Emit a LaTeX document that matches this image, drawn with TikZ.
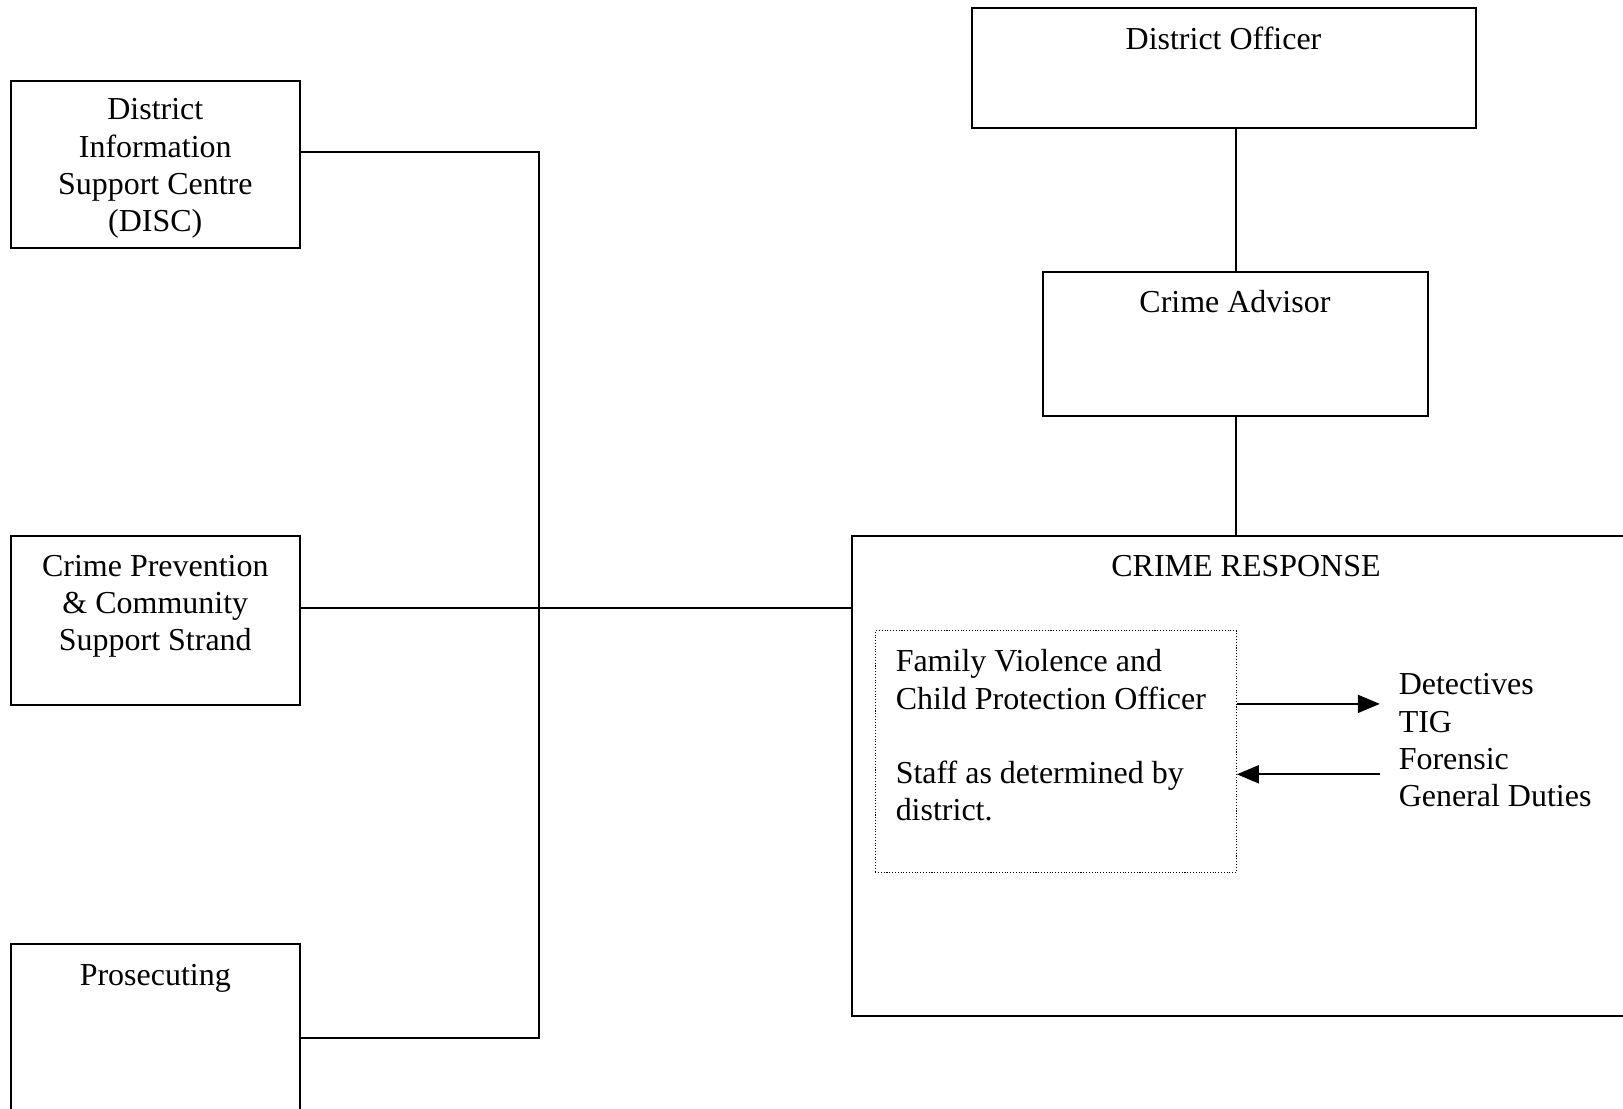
\documentclass[tikz,border=0pt]{standalone}
\usepackage{fontspec}
\setmainfont{Liberation Serif}
\usepackage{tikz}
\usetikzlibrary{arrows.meta}

\begin{document}
\begin{tikzpicture}[x=0.02cm,y=-0.02cm,
  every node/.style={font=\fontsize{18.2}{21.2}\selectfont},
  box/.style={draw,line width=1.1pt,rectangle,anchor=north west,inner sep=0pt},
  dotbox/.style={draw,densely dotted,line width=0.6pt,rectangle,anchor=north west,inner sep=0pt},
  txt/.style={inner sep=0pt,align=center},
  link/.style={line width=1.1pt},
  arr/.style={line width=1.1pt,-{Triangle[length=0.44cm,width=0.36cm]}}]
\useasboundingbox (0,0) rectangle (1623,1109);
\clip (0,0) rectangle (1623,1109);
% left side
\node[box,minimum width=5.774cm,minimum height=3.354cm] (disc) at (10.4,79.7) {};
\node[box,minimum width=5.774cm,minimum height=3.376cm] (cp) at (10.4,535.1) {};
\node[box,minimum width=5.774cm,minimum height=5cm] (pros) at (10.4,943) {};
\node[txt] (disctxt) at (155.3,168.6) {District\\Information\\Support Centre\\(DISC)};
\node[txt] (cptxt) at (155.3,606.4) {Crime Prevention\\\& Community\\Support Strand};
\node[txt] (prostxt) at (155.3,978) {Prosecuting};
% right side
\node[box,minimum width=10.082cm,minimum height=2.402cm] (do) at (970.9,7.2) {};
\node[box,minimum width=7.7cm,minimum height=2.878cm] (ca) at (1042.4,271.2) {};
\node[box,minimum width=17cm,minimum height=9.606cm] (cr) at (850.9,535.1) {};
\node[dotbox,minimum width=7.224cm,minimum height=4.824cm] (fv) at (874.7,630.4) {};
\node[txt] (dotxt) at (1223.5,38.3) {District Officer};
\node[txt] (catxt) at (1234.9,301.2) {Crime Advisor};
\node[txt] (crtxt) at (1246,566.1) {CRIME RESPONSE};
\node[txt,align=left,anchor=west] (fvtxt) at (895.4,735.6)
  {Family Violence and\\Child Protection Officer\\[21.2pt]Staff as determined by\\district.};
\node[txt,align=left,anchor=west] (teams) at (1398.4,740.3)
  {Detectives\\TIG\\Forensic\\General Duties};
% connectors
\coordinate (trunktop) at (539.3,152.2);
\coordinate (hub) at (539.3,607.6);
\coordinate (trunkbot) at (539.3,1038.2);
\draw[link] (disc.east |- trunktop) -- (trunktop) -- (trunkbot) -- (pros.east |- trunkbot);
\draw[link] (cp.east |- hub) -- (cr.west |- hub);
\draw[link] (ca.north) -- (ca.north |- do.south);
\draw[link] (ca.south) -- (ca.south |- cr.north);
\coordinate (toteam) at (1379.8,703.9);
\coordinate (fromteam) at (1379.8,774.3);
\draw[arr] (fv.east |- toteam) -- (toteam);
\draw[arr] (fromteam) -- (fv.east |- fromteam);
\end{tikzpicture}
\end{document}
